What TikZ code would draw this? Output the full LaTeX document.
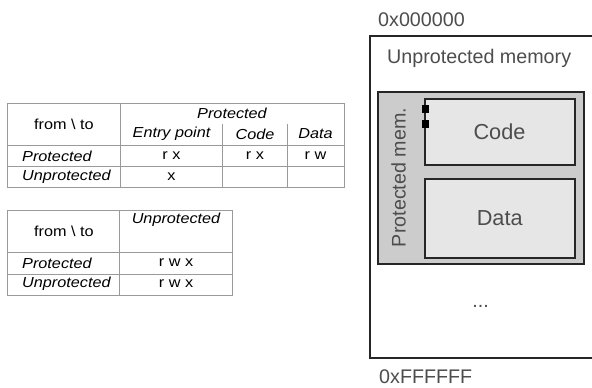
\documentclass[tikz,border=0pt]{standalone}
\usepackage{fontspec}
\setmainfont{Liberation Sans}
\newfontfamily\tabfont[FakeStretch=1.12]{Liberation Sans}
\definecolor{txtgray}{HTML}{4D4D4D}
\definecolor{gridgray}{HTML}{9A9A9A}
\definecolor{protfill}{HTML}{CCCCCC}
\definecolor{segfill}{HTML}{E6E6E6}
\begin{document}
\begin{tikzpicture}[x=1pt,y=-1pt,
  grid/.style={draw=gridgray,line width=0.9pt},
  celltxt/.style={inner sep=0pt,font=\tabfont\fontsize{14.5}{16}\selectfont,text=black},
  celli/.style={celltxt,font=\tabfont\itshape\fontsize{14.5}{16}\selectfont},
  memtxt/.style={inner sep=0pt,text=txtgray,font=\fontsize{19.7}{22}\selectfont},
  segtxt/.style={inner sep=0pt,text=txtgray,font=\fontsize{21.7}{24}\selectfont},
  membox/.style={draw=black!85,line width=2pt},
  entrymark/.style={fill=black}
]
\useasboundingbox (0,0) rectangle (592,388);
\clip (0,0) rectangle (592,388);

% ---- access table: target protected ----
\draw[grid] (7.5,103) rectangle (344,187.3);
\draw[grid] (120.5,103) -- (120.5,187.3);
\draw[grid] (222.3,124) -- (222.3,187.3);
\draw[grid] (287.3,124) -- (287.3,187.3);
\draw[grid] (7.5,145.7) -- (344,145.7);
\draw[grid] (7.5,166.3) -- (344,166.3);
\node[celltxt] (t1h) at (64,124.5) {from \textbackslash\ to};
\node[celli] (t1p) at (232,113) {Protected};
\node[celli] (t1e) at (171.5,134) {Entry point};
\node[celli] (t1c) at (255,134) {Code};
\node[celli] (t1d) at (315.5,134) {Data};
\node[celli,anchor=west] (t1rp) at (22,156) {Protected};
\node[celli,anchor=west] (t1ru) at (22,176.5) {Unprotected};
\node[celltxt] (t1a) at (171.5,156) {r x};
\node[celltxt] (t1b) at (255,156) {r x};
\node[celltxt] (t1c2) at (315.5,156) {r w};
\node[celltxt] (t1d2) at (171.5,176.5) {x};

% ---- access table: target unprotected ----
\draw[grid] (7.5,210) rectangle (232.5,295);
\draw[grid] (119,210) -- (119,295);
\draw[grid] (7.5,252.7) -- (232.5,252.7);
\draw[grid] (7.5,274) -- (232.5,274);
\node[celltxt] (t2h) at (64,231) {from \textbackslash\ to};
\node[celli] (t2u) at (176,220) {Unprotected};
\node[celli,anchor=west] (t2rp) at (22,263) {Protected};
\node[celli,anchor=west] (t2ru) at (22,284) {Unprotected};
\node[celltxt] (t2a) at (176,263) {r w x};
\node[celltxt] (t2b) at (176,284) {r w x};

% ---- memory layout ----
\node[memtxt,anchor=base west] (lo) at (378,26) {0x000000};
\node[memtxt,anchor=base west] (hi) at (379,383) {0xFFFFFF};
\draw[membox] (369.5,35.5) rectangle (602,358);
\node[memtxt,anchor=base west] (unp) at (387,63.5) {Unprotected memory};
\draw[membox,fill=protfill] (377.5,91.5) rectangle (584,264);
\draw[membox,fill=segfill] (425,99) rectangle (574.5,165);
\draw[membox,fill=segfill] (425,178.5) rectangle (574.5,257.5);
\fill[entrymark] (422.2,105.3) rectangle (429.3,112.7);
\fill[entrymark] (422.2,120.3) rectangle (429.3,127.7);
\node[memtxt,rotate=90] (pm) at (398.5,177.5) {Protected mem.};
\node[segtxt] (code) at (499.5,132) {Code};
\node[segtxt] (data) at (499.7,218) {Data};
\node[memtxt] (dots) at (480.7,306) {...};
\end{tikzpicture}
\end{document}
